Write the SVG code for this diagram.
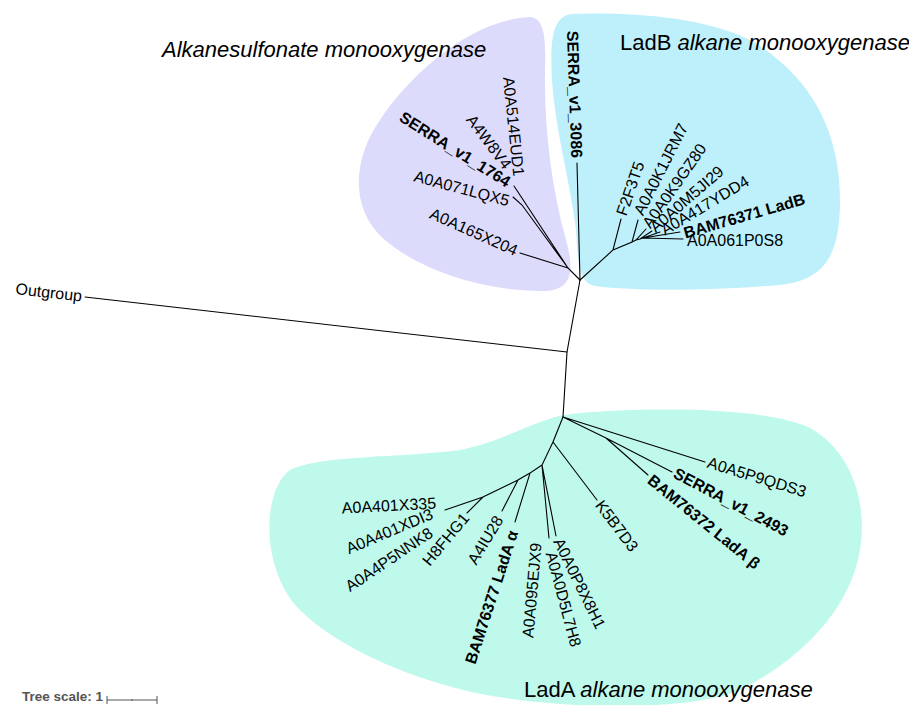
<svg xmlns="http://www.w3.org/2000/svg" width="909" height="705" viewBox="0 0 909 705">
<style>
text{font-family:"Liberation Sans",Arial,sans-serif;font-size:16px;fill:#000}
.b{font-weight:bold}
.e{text-anchor:end}
.t{font-size:22px}
.i{font-style:italic}
.c path{fill:none;stroke:#000;stroke-width:1.1;stroke-linecap:round}
</style>
<rect width="909" height="705" fill="#fff"/>
<g id="clades">
<path id="clade-alkanesulfonate" fill="#dddbfb" d="M530,17 C545,18 546,40 545,70 C544,130 552,190 566,240 C576,275 570,292 540,291 C480,290 420,270 385,240 C350,210 352,160 380,120 C410,75 470,20 530,17 Z"/>
<path id="clade-ladb" fill="#bef0fc" d="M572,14 C620,12 700,15 750,40 C810,75 840,130 840,200 C840,255 825,280 780,285 C720,290 640,292 595,286 C578,283 578,260 576,230 C570,180 555,130 552,80 C550,40 552,16 572,14 Z"/>
<path id="clade-lada" fill="#bef9eb" d="M580,413 C640,408 760,405 810,428 C850,450 868,500 860,550 C850,610 800,660 740,690 C700,708 600,710 520,700 C430,690 340,650 300,610 C260,570 262,490 290,470 C320,455 400,458 460,450 C510,440 540,415 580,413 Z"/>
</g>
<g id="connectors" class="c">
<path d="M85,297 L567,352"/>
<path d="M580,280 L567,352 L563,417"/>
<path d="M580,280 L568,268 M568,268 L520,253 M568,268 L514,186 M568,268 L522,205 L513,197"/>
<path d="M580,280 L577,163"/>
<path d="M580,280 L613,250 L621,219 M613,250 L632,242 L638,220 M632,242 L636,240 L646,229 M636,240 L640,239 L652,231 M640,239 L643,238 L660,232 M643,238 L680,232 M643,238 L683,239"/>
<path d="M563,417 L705,462 M563,417 L606,438 L672,472 M606,438 L648,475"/>
<path d="M563,417 L553,442 L597,500 M553,442 L542,465 L556,536 M542,465 L549,538 M542,465 L530,473 L515,522 M530,473 L518,480 L502,511 M518,480 L483,497 L467,513 M483,497 L445,510"/>
</g>
<g id="titles">
<text id="title-alkanesulfonate" class="t i" x="162" y="57">Alkanesulfonate monooxygenase</text>
<text id="title-ladb" class="t" x="620" y="50">LadB <tspan class="i">alkane monooxygenase</tspan></text>
<text id="title-lada" class="t" x="524" y="697">LadA <tspan class="i">alkane monooxygenase</tspan></text>
</g>
<g id="outgroup"><text class="e" dy="0.35em" transform="translate(82,296) rotate(6.5)">Outgroup</text></g>
<g id="A0A165X204"><text class="e" dy="0.35em" transform="translate(517,251) rotate(24)">A0A165X204</text></g>
<g id="A0A071LQX5"><text class="e" dy="0.35em" transform="translate(509,201) rotate(15)">A0A071LQX5</text></g>
<g id="SERRA_v1_1764"><text class="e b" dy="0.35em" transform="translate(509,183) rotate(32)">SERRA_v1_1764</text></g>
<g id="A4W8V4"><text class="e" dy="0.35em" transform="translate(508,167) rotate(53)">A4W8V4</text></g>
<g id="A0A514EUD1"><text class="e" dy="0.35em" transform="translate(519,176) rotate(84)">A0A514EUD1</text></g>
<g id="SERRA_v1_3086"><text class="e b" dy="0.35em" transform="translate(577,158) rotate(88)">SERRA_v1_3086</text></g>
<g id="F2F3T5"><text dy="0.35em" transform="translate(621,215) rotate(-71)">F2F3T5</text></g>
<g id="A0A0K1JRM7"><text dy="0.35em" transform="translate(638,214) rotate(-63)">A0A0K1JRM7</text></g>
<g id="A0A0K9GZ80"><text dy="0.35em" transform="translate(646,226) rotate(-55)">A0A0K9GZ80</text></g>
<g id="A0A0M5JI29"><text dy="0.35em" transform="translate(652,229) rotate(-41)">A0A0M5JI29</text></g>
<g id="A0A417YDD4"><text dy="0.35em" transform="translate(662,231) rotate(-31)">A0A417YDD4</text></g>
<g id="BAM76371"><text class="b" dy="0.35em" transform="translate(684,233) rotate(-16)">BAM76371 LadB</text></g>
<g id="A0A061P0S8"><text dy="0.35em" transform="translate(687,240)">A0A061P0S8</text></g>
<g id="A0A5P9QDS3"><text dy="0.35em" transform="translate(708,462) rotate(17)">A0A5P9QDS3</text></g>
<g id="SERRA_v1_2493"><text class="b" dy="0.35em" transform="translate(675,472) rotate(28)">SERRA_v1_2493</text></g>
<g id="BAM76372"><text class="b" dy="0.35em" transform="translate(650,478) rotate(39)">BAM76372 LadA β</text></g>
<g id="K5B7D3"><text dy="0.35em" transform="translate(599,502) rotate(53)">K5B7D3</text></g>
<g id="A0A0P8X8H1"><text dy="0.35em" transform="translate(558,539) rotate(64)">A0A0P8X8H1</text></g>
<g id="A0A0D5L7H8"><text dy="0.35em" transform="translate(551,552) rotate(75)">A0A0D5L7H8</text></g>
<g id="A0A095EJX9"><text class="e" dy="0.35em" transform="translate(536,543) rotate(-85)">A0A095EJX9</text></g>
<g id="BAM76377"><text class="e b" dy="0.35em" transform="translate(513,531) rotate(-72)">BAM76377 LadA α</text></g>
<g id="A4IU28"><text class="e" dy="0.35em" transform="translate(499,517) rotate(-59)">A4IU28</text></g>
<g id="H8FHG1"><text class="e" dy="0.35em" transform="translate(466,515) rotate(-50)">H8FHG1</text></g>
<g id="A0A4P5NNK8"><text class="e" dy="0.35em" transform="translate(431,531) rotate(-34)">A0A4P5NNK8</text></g>
<g id="A0A401XDI3"><text class="e" dy="0.35em" transform="translate(432,513) rotate(-23)">A0A401XDI3</text></g>
<g id="A0A401X335"><text class="e" dy="0.35em" transform="translate(436,503) rotate(-3)">A0A401X335</text></g>
<g id="tree-scale">
<text class="b" x="22" y="701" style="font-size:13.5px;fill:#555">Tree scale: 1</text>
<path d="M107,700 H157 M107,696 V704 M157,696 V704 M132,699 V701" fill="none" stroke="#555" stroke-width="1"/>
</g>
</svg>
